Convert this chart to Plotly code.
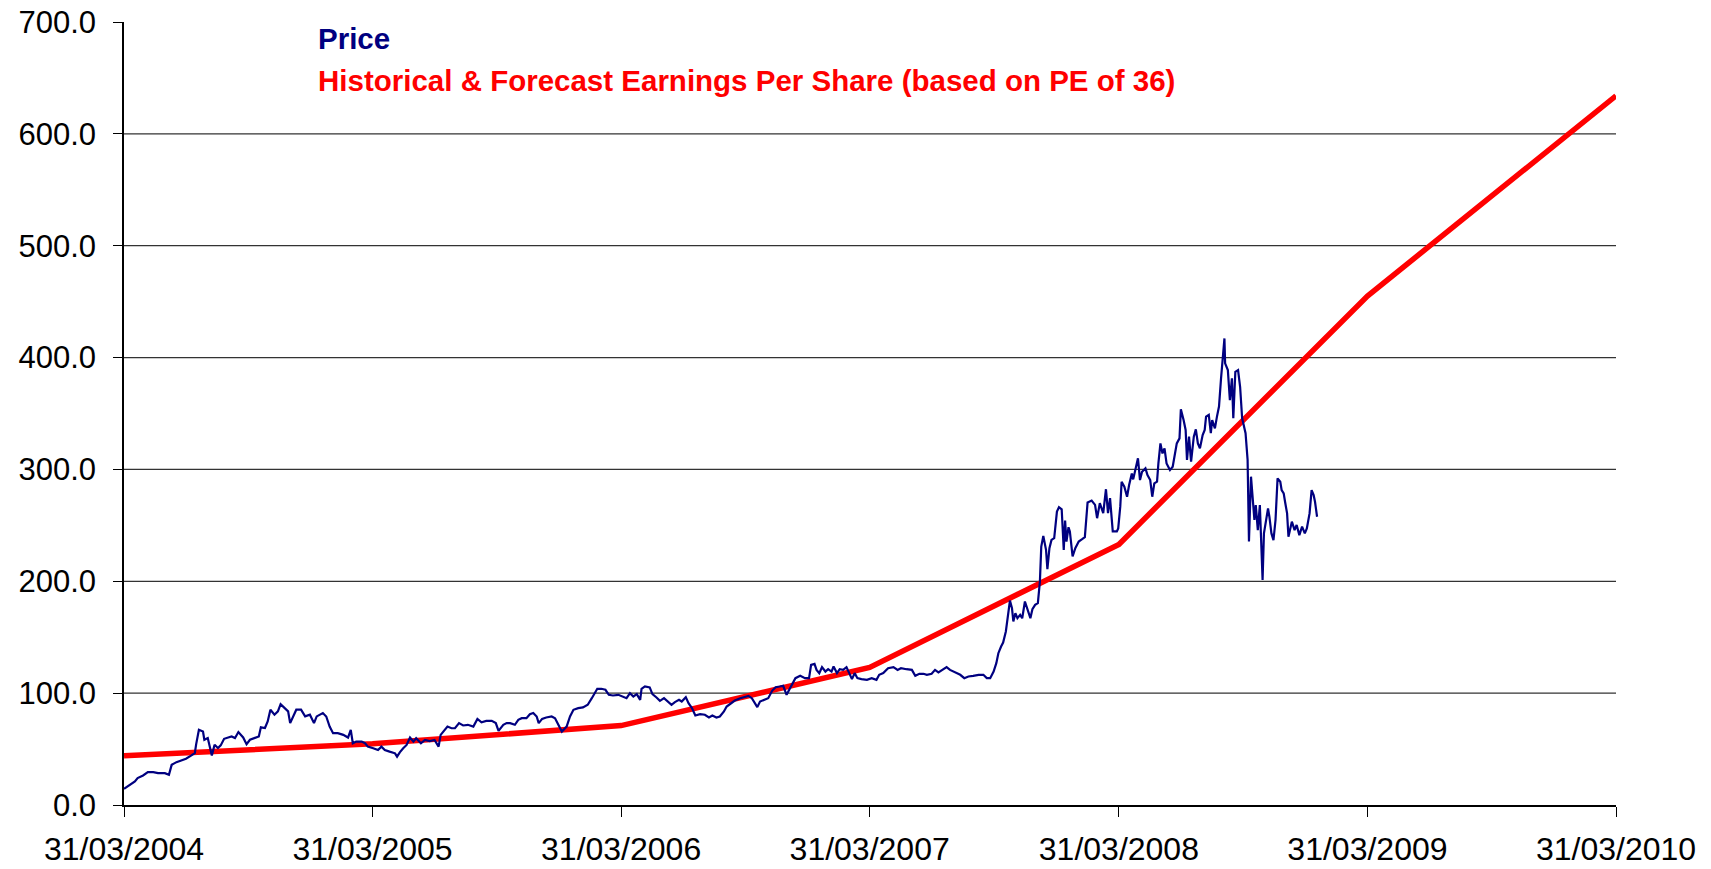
import pandas as pd
import plotly.graph_objects as go

# ---------------- data ----------------
start_date = "2004-03-31"

# Price: days after 31/03/2004 and share price
price_days = [
    0, 8, 16, 20, 28, 35, 43, 50, 60, 66, 70, 77, 84, 91, 99, 104, 106, 110, 116, 118,
    123, 126, 129, 133, 138, 142, 147, 153, 158, 163, 168, 175, 180, 185, 192, 198, 201, 207,
    211, 215, 221, 226, 230, 236, 241, 244, 248, 253, 260, 266, 273, 279, 283,
    287, 292, 297, 302, 307, 314, 322, 329, 333, 336, 341, 349, 354, 358, 366, 373, 378, 383,
    390, 398, 401, 405, 410, 415, 420, 425, 429, 436, 442, 449, 456, 462, 465, 471, 475, 481,
    486, 492, 498, 505, 513, 519, 525, 532, 540, 546, 550, 557, 562, 567,
    574, 579, 584, 591, 596, 601, 606, 609, 614, 620, 628, 633, 638, 643, 650, 655, 660, 667,
    674, 681, 687, 691, 695, 701, 707, 712, 718, 726, 732, 738, 743, 748, 753, 758, 760, 765,
    772, 776, 782, 787, 793, 798, 804, 809, 815, 819, 825, 829, 834, 839, 846, 853, 859, 864,
    870, 875, 881,
    885, 892, 897, 905, 912, 917, 922, 927, 930, 934, 941, 946, 952, 957, 963, 968, 973, 978,
    983, 986, 993, 1000, 1006, 1009, 1014, 1017, 1021, 1025, 1030, 1034, 1039, 1042, 1047,
    1051, 1056, 1061, 1065, 1069, 1073, 1077, 1083, 1091, 1098, 1105, 1109, 1115, 1122, 1130,
    1136, 1141, 1149, 1157, 1162, 1168, 1174,
    1179, 1186, 1191, 1196, 1202, 1208, 1213, 1220, 1228, 1234, 1240, 1247, 1255, 1262, 1267,
    1272, 1277, 1281, 1284, 1288, 1291, 1295, 1298, 1301, 1304, 1306, 1309, 1312, 1316, 1319,
    1323, 1327, 1331, 1334, 1338, 1342, 1345, 1347, 1350, 1354, 1356, 1359, 1362, 1366, 1370,
    1373, 1377, 1380, 1382, 1384, 1387, 1389, 1393, 1397, 1402, 1407, 1411, 1415, 1421, 1426,
    1429, 1433, 1438, 1442, 1445, 1448, 1452, 1458,
    1460, 1463, 1465, 1469, 1473, 1476, 1480, 1482, 1486, 1489, 1492, 1495, 1500, 1503, 1507,
    1510, 1513, 1517, 1519, 1522, 1525, 1528, 1531, 1536, 1540, 1543, 1546, 1550, 1552, 1556,
    1559, 1561, 1564, 1567, 1571, 1574, 1577, 1580, 1584, 1587, 1589, 1593, 1596, 1598, 1602,
    1605, 1608, 1611, 1614, 1616, 1617, 1621, 1624, 1627, 1629, 1632, 1636, 1639, 1642, 1644,
    1647, 1650, 1652, 1655, 1657, 1660, 1662, 1665, 1668, 1670, 1672, 1674, 1677, 1680, 1682,
    1685, 1688, 1691, 1694, 1698, 1700, 1703, 1705, 1708, 1710, 1713, 1715, 1719, 1722, 1726,
    1730, 1734, 1737, 1741, 1744, 1747, 1749, 1752,
]
price_values = [
    14.5, 18.2, 21.1, 24.1, 26.4, 29.4, 29.4, 28.5, 28.5, 27.0, 35.9, 38.3, 39.5, 41.3, 44.3, 46.4, 54.4, 67.2, 65.7, 58.3,
    59.8, 52.3, 44.3, 53.9, 50.9, 53.3, 59.2, 60.4, 61.3, 59.8, 65.2, 60.4, 54.4, 58.3, 59.8, 61.3, 69.4, 68.8,
    74.7, 85.2, 80.7, 83.7, 90.2, 86.7, 83.7, 73.2, 79.2, 85.2, 85.2, 79.2, 80.7, 73.2, 79.2,
    80.7, 82.2, 79.1, 70.1, 64.2, 64.2, 62.7, 60.3, 67.2, 55.2, 56.7, 56.7, 55.2, 52.2, 50.7, 49.2, 52.2, 49.2,
    47.7, 46.2, 43.2, 47.1, 50.7, 53.7, 60.3, 56.7, 59.7, 55.2, 58.2, 57.2, 58.2, 52.2, 62.7, 67.2, 70.1, 68.6,
    68.6, 73.2, 71.1, 71.7, 70.1, 77.0, 74.0, 75.2, 75.2, 73.2, 66.3, 71.7, 73.2, 73.2,
    71.7, 76.1, 77.6, 77.6, 81.2, 82.2, 79.1, 73.2, 77.0, 78.2, 79.1, 77.6, 71.1, 65.7, 70.1, 79.1, 85.1, 86.6,
    87.2, 89.6, 95.5, 100.0, 103.9, 103.9, 103.0, 98.5, 97.9, 98.5, 97.0, 95.5, 100.0, 97.0, 99.1, 94.0, 103.9, 106.0,
    105.1, 99.1, 96.1, 93.1, 95.5, 92.5, 89.6, 92.0, 94.0, 92.5, 96.4, 91.0, 86.6, 80.0, 81.2, 80.7, 78.2, 80.0,
    78.2, 79.1, 83.6,
    88.0, 91.0, 93.4, 95.5, 96.4, 97.6, 95.5, 91.0, 87.5, 92.5, 94.0, 95.5, 102.3, 105.3, 105.9, 106.5, 98.5, 104.4,
    108.9, 113.4, 115.5, 113.4, 113.4, 125.3, 126.2, 120.8, 117.9, 123.2, 119.3, 121.4, 119.3, 123.8, 117.9,
    121.4, 120.8, 123.2, 117.9, 112.5, 117.9, 113.4, 112.5, 111.9, 113.4, 111.9, 116.4, 117.9, 122.3, 123.2,
    120.8, 122.3, 121.4, 120.8, 115.5, 117.3, 117.3,
    116.4, 117.3, 120.8, 118.5, 120.8, 123.2, 120.8, 118.5, 116.4, 113.4, 114.9, 115.5, 116.4, 116.4, 113.4,
    113.4, 119.3, 126.8, 135.7, 141.7, 145.2, 155.1, 170.0, 182.8, 176.0, 164.1, 171.5, 167.0, 170.0, 167.0,
    181.9, 174.4, 167.0, 175.0, 178.9, 180.4, 199.7, 231.0, 240.6, 228.1, 210.8, 229.6, 237.0, 238.5, 262.3,
    266.2, 264.4, 228.1, 254.3, 235.5, 248.3, 244.6, 222.2, 229.6, 235.5, 237.6, 239.4, 270.4, 272.2, 268.3,
    256.4, 269.8, 260.9, 282.3, 260.9, 274.3, 244.6, 244.6,
    247.3, 266.7, 289.0, 284.6, 275.6, 286.0, 296.4, 291.1, 302.4, 309.9, 290.5, 297.9, 300.9, 294.9, 290.5,
    275.6, 287.5, 289.0, 305.4, 323.3, 314.3, 318.8, 305.4, 299.4, 302.4, 314.3, 323.3, 327.8, 353.7, 344.2,
    335.3, 308.5, 329.3, 307.0, 329.3, 335.8, 323.3, 318.8, 330.7, 335.3, 347.2, 348.7, 332.4, 344.2, 336.7,
    347.2, 356.2, 381.4, 406.8, 417.1, 394.8, 388.8, 362.0, 381.4, 345.7, 387.3, 388.8, 373.9, 345.7, 341.3,
    332.4, 308.5, 235.5, 293.5, 278.6, 254.8, 268.2, 245.8, 268.2, 225.0, 201.1, 242.8, 254.8, 265.2, 257.7,
    242.8, 236.8, 254.8, 292.0, 289.0, 281.5, 278.6, 271.1, 260.7, 239.8, 248.8, 253.3, 245.8, 250.3, 241.3,
    248.8, 242.8, 247.3, 260.7, 281.5, 277.0, 271.1, 257.7,
]

# Historical & forecast EPS x PE 36
eps_dates = ["2004-03-31", "2005-03-31", "2006-03-31", "2007-03-31",
             "2008-03-31", "2009-03-31", "2010-03-31"]
eps_values = [44.0, 54.7, 71.0, 123.0, 233.0, 455.0, 634.0]

# axis ticks
x_tick_dates = ["2004-03-31", "2005-03-31", "2006-03-31", "2007-03-31",
                "2008-03-31", "2009-03-31", "2010-03-31"]
x_tick_labels = ["31/03/2004", "31/03/2005", "31/03/2006", "31/03/2007",
                 "31/03/2008", "31/03/2009", "31/03/2010"]
y_ticks = [0, 100, 200, 300, 400, 500, 600, 700]

legend_price = "Price"
legend_eps = "Historical & Forecast Earnings Per Share (based on PE of 36)"

# ---------------- figure ----------------
FONT = "Arial, 'Liberation Sans', sans-serif"
price_dates = pd.Timestamp(start_date) + pd.to_timedelta(price_days, unit="D")

fig = go.Figure()
fig.add_trace(go.Scatter(
    x=eps_dates, y=eps_values, mode="lines",
    line=dict(color="#FF0000", width=5.5), name=legend_eps, showlegend=False,
))
fig.add_trace(go.Scatter(
    x=price_dates, y=price_values, mode="lines",
    line=dict(color="#000080", width=2.2), name=legend_price, showlegend=False,
))

# horizontal gridlines (interior ticks only, as in the reference)
for v in y_ticks[1:-1]:
    fig.add_shape(type="line", xref="paper", x0=0, x1=1, yref="y", y0=v, y1=v,
                  line=dict(color="#333333", width=1.2), layer="below")

fig.add_annotation(xref="paper", yref="paper", x=0.1285, y=0.979,
                   xanchor="left", yanchor="middle", showarrow=False,
                   text="<b>" + legend_price + "</b>",
                   font=dict(family=FONT, size=29.5, color="#000080"))
fig.add_annotation(xref="paper", yref="paper", x=0.1285, y=0.9257,
                   xanchor="left", yanchor="middle", showarrow=False,
                   text="<b>" + legend_eps + "</b>",
                   font=dict(family=FONT, size=29.5, color="#FF0000"))

fig.update_layout(
    width=1711, height=869,
    margin=dict(l=124, r=95, t=22, b=64, autoexpand=False),
    paper_bgcolor="white", plot_bgcolor="white",
    font=dict(family=FONT, color="black"),
    showlegend=False,
    xaxis=dict(
        type="date", range=[x_tick_dates[0], x_tick_dates[-1]],
        tickmode="array", tickvals=x_tick_dates, ticktext=x_tick_labels,
        ticks="outside", ticklen=10, tickwidth=1, tickcolor="black",
        ticklabelstandoff=5, automargin=False,
        showline=True, linecolor="black", linewidth=2,
        showgrid=False, zeroline=False,
        tickfont=dict(family=FONT, size=32, color="black"),
    ),
    yaxis=dict(
        range=[0, 700], tickmode="array", tickvals=y_ticks,
        tickformat=".1f", automargin=False,
        ticks="outside", ticklen=9, tickwidth=1, tickcolor="black",
        ticklabelstandoff=11,
        showline=True, linecolor="black", linewidth=1.5,
        showgrid=False, zeroline=False,
        tickfont=dict(family=FONT, size=31, color="black"),
    ),
)

fig.write_html("out.html", config={"displayModeBar": False},
               post_script="document.body.style.margin='0';document.body.style.overflow='hidden';")
